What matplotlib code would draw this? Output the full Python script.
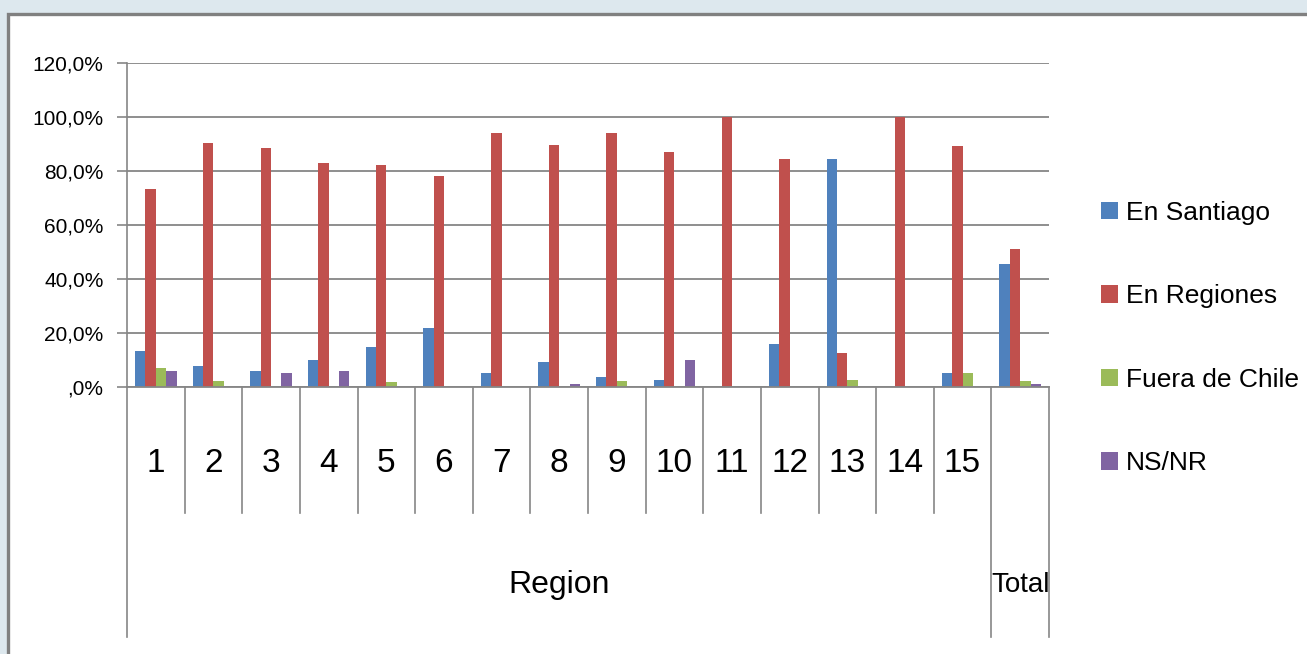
import matplotlib
matplotlib.use('Agg')
import matplotlib.pyplot as plt
from matplotlib.patches import Rectangle
import numpy as np

plt.rcParams['font.family'] = ['Liberation Sans Narrow', 'DejaVu Sans Condensed',
                               'Liberation Sans', 'DejaVu Sans']
plt.rcParams['font.stretch'] = 'condensed'

# datos (porcentajes)
categorias = ['1', '2', '3', '4', '5', '6', '7', '8', '9', '10', '11', '12', '13', '14', '15', 'Total']
en_santiago = [13.3, 7.7, 6.0, 10.0, 14.7, 22.0, 5.2, 9.2, 3.6, 2.7, 0.0, 15.8, 84.5, 0.0, 5.2, 45.6]
en_regiones = [73.3, 90.3, 88.7, 83.0, 82.2, 78.1, 94.2, 89.6, 94.2, 87.0, 100.0, 84.5, 12.6, 100.0, 89.3, 51.2]
fuera_chile = [6.9, 2.1, 0.0, 0.0, 2.0, 0.0, 0.0, 0.0, 2.1, 0.0, 0.0, 0.0, 2.7, 0.0, 5.2, 2.1]
ns_nr = [6.0, 0.0, 5.2, 6.0, 0.0, 0.0, 0.0, 1.1, 0.0, 10.0, 0.0, 0.0, 0.0, 0.0, 0.0, 1.2]
series = ['En Santiago', 'En Regiones', 'Fuera de Chile', 'NS/NR']
colores = ['#4F81BD', '#C0504D', '#9BBB59', '#8064A2']
yticks = [0, 20, 40, 60, 80, 100, 120]
ytick_labels = [',0%', '20,0%', '40,0%', '60,0%', '80,0%', '100,0%', '120,0%']

fig = plt.figure(figsize=(13.07, 6.54), dpi=100, facecolor='#dde8ee')
# marco blanco con borde gris
fig.patches.append(Rectangle((8 / 1307, -0.1), 1.2, 1 - 13.5 / 654 + 0.1,
                             transform=fig.transFigure, facecolor='white',
                             edgecolor='#808080', linewidth=2.4, zorder=-5))

ax = fig.add_axes([127 / 1307, 1 - 387 / 654, 922 / 1307, 324 / 654])
ax.set_facecolor('none')

x = np.arange(len(categorias))
w = 0.18
valores = [en_santiago, en_regiones, fuera_chile, ns_nr]
for i, (nombre, vals, col) in enumerate(zip(series, valores, colores)):
    ax.bar(x + (i - 1.5) * w, vals, w, color=col, label=nombre, zorder=3,
           edgecolor='none')

ax.set_xlim(-0.5, len(categorias) - 0.5)
ax.set_ylim(0, 120)
ax.set_yticks(yticks)
ax.set_yticklabels(ytick_labels, fontsize=15)
ax.yaxis.grid(True, color='#868686', linewidth=1.3, zorder=1)
ax.tick_params(axis='y', length=7, width=1.2, color='#868686', pad=10)
ax.tick_params(axis='x', length=0, labelbottom=False)

for s in ['top', 'right', 'bottom']:
    ax.spines[s].set_visible(False)
ax.spines['left'].set_color('#868686')
ax.spines['left'].set_linewidth(1.2)
ax.spines['left'].set_bounds(0, 120)

trans = ax.get_xaxis_transform()
ax.plot([-0.5, len(categorias) - 0.5], [0, 0], color='#868686', lw=1.3,
        transform=trans, clip_on=False, zorder=4)

# separadores de categorias
for k in range(len(categorias) + 1):
    xb = k - 0.5
    if k in (0, 15, 16):
        y_fin = -250 / 324
    else:
        y_fin = -126 / 324
    ax.plot([xb, xb], [0, y_fin], color='#868686', lw=1.2,
            transform=trans, clip_on=False)

# etiquetas de categorias
for k, c in enumerate(categorias[:-1]):
    ax.text(k, -76 / 324, c, transform=trans, ha='center', va='center',
            fontsize=24)
ax.text(7, -198 / 324, 'Region', transform=trans, ha='center', va='center',
        fontsize=23)
ax.text(15, -198 / 324, 'Total', transform=trans, ha='center', va='center',
        fontsize=20)

fig.legend(loc='center left', bbox_to_anchor=(1090 / 1307, 1 - 338 / 654),
           frameon=False, fontsize=19, handlelength=0.65, handleheight=0.65,
           handletextpad=0.3, labelspacing=2.25, borderaxespad=0)

fig.savefig('out.png', dpi=100, facecolor=fig.get_facecolor())
